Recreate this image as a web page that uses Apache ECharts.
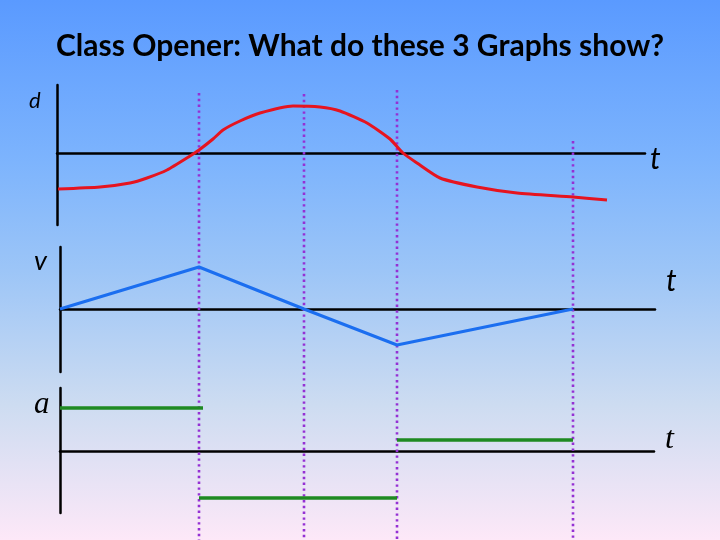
<!DOCTYPE html>
<html>
<head>
<meta charset="utf-8">
<script src="https://cdn.jsdelivr.net/npm/echarts@6/dist/echarts.min.js"></script>
<style>
html,body{margin:0;padding:0;}
#chart{width:720px;height:540px;}
</style>
</head>
<body>
<div id="chart"></div>
<script>
// ---- data ----
const titleText = 'Class Opener: What do these 3 Graphs show?';
// times (1 unit = same horizontal step in all three graphs) where the dotted guides are
const eventTimes = [13.9, 24.4, 33.7, 51.3];
// top of each dotted guide, in displacement-graph units
const guideTops = [60, 59, 63, 12];
const guideBottom = -387;

// displacement curve (d vs t)
const dTimes  = [-0.2, 4, 7, 8.7, 10.7, 13, 13.9, 15.3, 16.3, 18, 20, 23.3, 26, 28, 30.7, 33, 34.3, 35.7, 38, 41.7, 45.7, 51.3, 54.7];
const dValues = [-36, -34, -30, -25, -17, -3, 3, 14, 23, 32, 40, 47, 46, 42, 30, 14, 0, -10, -25, -34, -40, -44, -47];

// velocity (v vs t)
const vTimes  = [0, 13.9, 24.4, 33.7, 51.3];
const vValues = [0, 42, 0, -36, 0];

// acceleration (a vs t): three constant segments
const aStarts = [0, 13.9, 33.7];
const aEnds   = [14.3, 33.7, 51.3];
const aValues = [43, -47, 11];

// axis labels
const dLabel = 'd', vLabel = 'v', aLabel = 'a', tLabel = 't';

// ---- build ----
const chart = echarts.init(document.getElementById('chart'));
const axisLine = {show:true, onZero:true, lineStyle:{color:'#000', width:2.5}};
const yLine = {show:true, onZero:false, lineStyle:{color:'#000', width:2.5}};
function xAx(idx, min, max, showLine){
  return {gridIndex:idx, type:'value', min:min, max:max, axisLine: showLine ? axisLine : {show:false},
    axisTick:{show:false}, axisLabel:{show:false}, splitLine:{show:false}};
}
function yAx(idx, min, max, showLine){
  return {gridIndex:idx, type:'value', min:min, max:max, axisLine: showLine ? yLine : {show:false},
    axisTick:{show:false}, axisLabel:{show:false}, splitLine:{show:false}};
}

const aData = [];
aStarts.forEach((s,i)=>{ aData.push([s,aValues[i]]); aData.push([aEnds[i],aValues[i]]); aData.push([aEnds[i],'-']); });

const guideData = [];
eventTimes.forEach((t,i)=>{ guideData.push([t,guideTops[i]]); guideData.push([t,guideBottom]); guideData.push([t,'-']); });

const option = {
  animation:false,
  backgroundColor:{type:'linear', x:0, y:0, x2:0, y2:1, colorStops:[
    {offset:0, color:'#5a9aff'},
    {offset:0.3, color:'#7db4fd'},
    {offset:0.5, color:'#9cc5f7'},
    {offset:0.75, color:'#cddcf1'},
    {offset:1, color:'#fde8f8'}
  ]},
  title:{text:titleText, left:'center', top:26,
    textStyle:{fontFamily:'Lato', fontWeight:'bold', fontSize:30, color:'#000'}},
  grid:[
    {left:57, top:85, width:588, height:140},
    {left:60, top:247, width:595, height:125},
    {left:60, top:388, width:594, height:125},
    {left:60, top:85, width:595, height:455}
  ],
  xAxis:[ xAx(0,-0.3,58.5,true), xAx(1,0,59.5,true), xAx(2,0,59.4,true), xAx(3,0,59.5,false) ],
  yAxis:[ yAx(0,-72,68,true), yAx(1,-63,62,true), yAx(2,-62,63,true), yAx(3,guideBottom,68,false) ],
  series:[
    {type:'line', xAxisIndex:3, yAxisIndex:3, data:guideData, symbol:'none', connectNulls:false,
      lineStyle:{color:'#9530d4', width:2.6, type:[2.4,3.4]}, z:1},
    {type:'line', xAxisIndex:0, yAxisIndex:0, data:dTimes.map((t,i)=>[t,dValues[i]]), symbol:'none', smooth:0.2,
      lineStyle:{color:'#e6141f', width:3}, z:3},
    {type:'line', xAxisIndex:1, yAxisIndex:1, data:vTimes.map((t,i)=>[t,vValues[i]]), symbol:'none',
      lineStyle:{color:'#1b6ef0', width:3}, z:3},
    {type:'line', xAxisIndex:2, yAxisIndex:2, data:aData, symbol:'none', connectNulls:false,
      lineStyle:{color:'#1f8a22', width:3.5}, z:3}
  ],
  graphic:[
    {type:'text', left:29, top:90, style:{text:dLabel, font:'italic 22px Lato', fill:'#000'}},
    {type:'text', left:650, top:144, style:{text:tLabel, font:'italic 30px Lato', fill:'#000'}},
    {type:'text', left:34, top:248, style:{text:vLabel, font:'italic 27px Lato', fill:'#000'}},
    {type:'text', left:666, top:266, style:{text:tLabel, font:'italic 30px Lato', fill:'#000'}},
    {type:'text', left:34, top:389, style:{text:aLabel, font:'italic 31px "Liberation Serif"', fill:'#000'}},
    {type:'text', left:665, top:424, style:{text:tLabel, font:'italic 32px "Liberation Serif"', fill:'#000'}}
  ]
};
chart.setOption(option);
</script>
</body>
</html>
